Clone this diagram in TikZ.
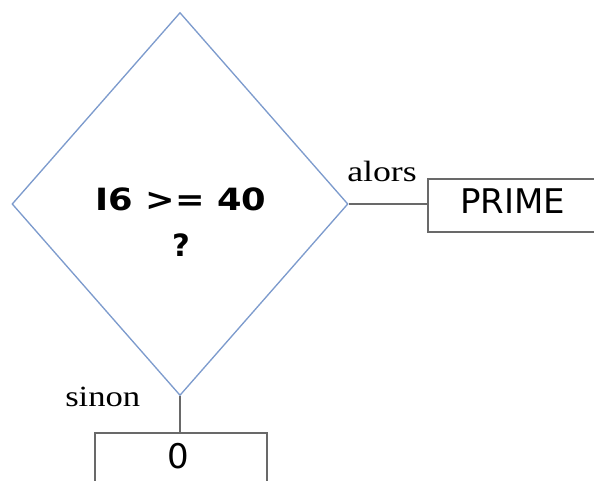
\documentclass[tikz,border=0pt]{standalone}
\usepackage{fontspec}
\setmainfont{Liberation Serif}
\newfontfamily\dvs{DejaVu Sans}
\usetikzlibrary{shapes.geometric}
\definecolor{diablue}{RGB}{125,155,205}
\definecolor{linegray}{RGB}{105,105,105}
\tikzset{
  decision/.style={diamond, draw=diablue, line width=1pt, inner sep=0pt},
  box/.style={rectangle, draw=linegray, line width=1.6pt, inner sep=0pt},
  boxtext/.style={font=\dvs\fontsize{25.5}{30}\selectfont, inner sep=0pt},
  conn/.style={draw=linegray, line width=2pt},
  lbl/.style={font=\fontsize{22}{26}\selectfont, inner sep=0pt, anchor=base west}
}
\begin{document}
\begin{tikzpicture}[x=0.75pt,y=-0.75pt]
\useasboundingbox (0,0) rectangle (594,481);
\clip (0,0) rectangle (594,481);
\node[decision, minimum width=252pt, minimum height=287.25pt] (dec) at (180,204) {};
\node[font=\dvs\bfseries\fontsize{23}{34.5}\selectfont, align=center, inner sep=0pt] (cond) at (181,222) {\scalebox{1.15}[1]{I6 >= 40}\\?};
\node[box, minimum width=129pt, minimum height=39.75pt] (prime) at (514,205.5) {};
\node[boxtext] (primet) at (512.5,201.5) {PRIME};
\node[box, minimum width=129pt, minimum height=60pt] (zero) at (181,473) {};
\node[boxtext] (zerot) at (178,456) {0};
\draw[conn] (dec.east) -- (dec.east -| prime.west);
\draw[conn] (dec.south) -- (dec.south |- zero.north);
\node[lbl] (alors) at (347,182) {\scalebox{1.22}[1]{alors}};
\node[lbl] (sinon) at (65,407) {\scalebox{1.18}[1]{sinon}};
\end{tikzpicture}
\end{document}
